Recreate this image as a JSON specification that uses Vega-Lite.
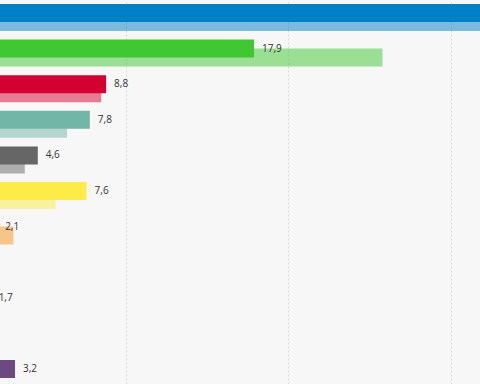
{
  "$schema": "https://vega.github.io/schema/vega-lite/v6.json",
  "width": 480,
  "height": 384,
  "autosize": "none",
  "padding": 0,
  "background": "#f7f7f7",
  "config": {
    "view": {"stroke": null, "fill": "#f7f7f7"},
    "locale": {"number": {"decimal": ",", "thousands": ".", "grouping": [3], "currency": ["", " €"]}}
  },
  "data": {
    "values": [
      {"row": 0, "party": "CSU", "current": 37.5, "previous": 35.0},
      {"row": 1, "party": "Grüne", "current": 17.9, "previous": 25.8},
      {"row": 2, "party": "SPD", "current": 8.8, "previous": 8.5},
      {"row": 3, "party": "Freie Wähler", "current": 7.8, "previous": 6.4},
      {"row": 4, "party": "CDU", "current": 4.6, "previous": 3.8},
      {"row": 5, "party": "FDP", "current": 7.6, "previous": 5.7},
      {"row": 6, "party": "Piraten", "current": 2.1, "previous": 3.1},
      {"row": 7, "party": "ÖDP", "current": null, "previous": null},
      {"row": 8, "party": "Tierschutz", "current": 1.7, "previous": 1.0},
      {"row": 9, "party": "Volt", "current": null, "previous": null},
      {"row": 10, "party": "BSW", "current": 3.2, "previous": null}
    ]
  },
  "encoding": {
    "y": {
      "field": "row",
      "type": "quantitative",
      "scale": {"domain": [-0.4916, 10.295], "reverse": true, "nice": false, "zero": false, "padding": 0},
      "axis": null
    },
    "color": {
      "field": "party",
      "type": "nominal",
      "scale": {
        "domain": ["CSU", "Grüne", "SPD", "Freie Wähler", "CDU", "FDP", "Piraten", "ÖDP", "Tierschutz", "Volt", "BSW"],
        "range": ["#0080c5", "#40c832", "#d50032", "#72b6a7", "#666666", "#fdec48", "#f7941d", "#f08a3a", "#3a7fa0", "#502379", "#6c4a80"]
      },
      "legend": null
    }
  },
  "layer": [
    {
      "mark": {"type": "bar", "orient": "horizontal", "size": 18, "yOffset": 4.5, "opacity": 0.5, "clip": true},
      "encoding": {
        "x": {
          "field": "previous",
          "type": "quantitative",
          "scale": {"domain": [2.275, 31.795], "zero": false, "nice": false, "padding": 0},
          "axis": {"values": [10, 20, 30], "grid": true, "gridColor": "#d9d9d9", "gridDash": [2, 2], "gridWidth": 1, "labels": false, "ticks": false, "domain": false, "title": null}
        },
        "x2": {"datum": 0}
      }
    },
    {
      "mark": {"type": "bar", "orient": "horizontal", "size": 18, "yOffset": -4.5, "clip": true},
      "encoding": {
        "x": {"field": "current", "type": "quantitative"},
        "x2": {"datum": 0}
      }
    },
    {
      "mark": {"type": "text", "align": "left", "baseline": "middle", "dx": 8, "yOffset": -4.5, "font": "Open Sans", "fontSize": 10, "color": "#333333", "clip": true},
      "encoding": {
        "x": {"field": "current", "type": "quantitative"},
        "text": {"field": "current", "type": "quantitative", "format": ".1f"},
        "color": {"value": "#333333"}
      }
    }
  ]
}
